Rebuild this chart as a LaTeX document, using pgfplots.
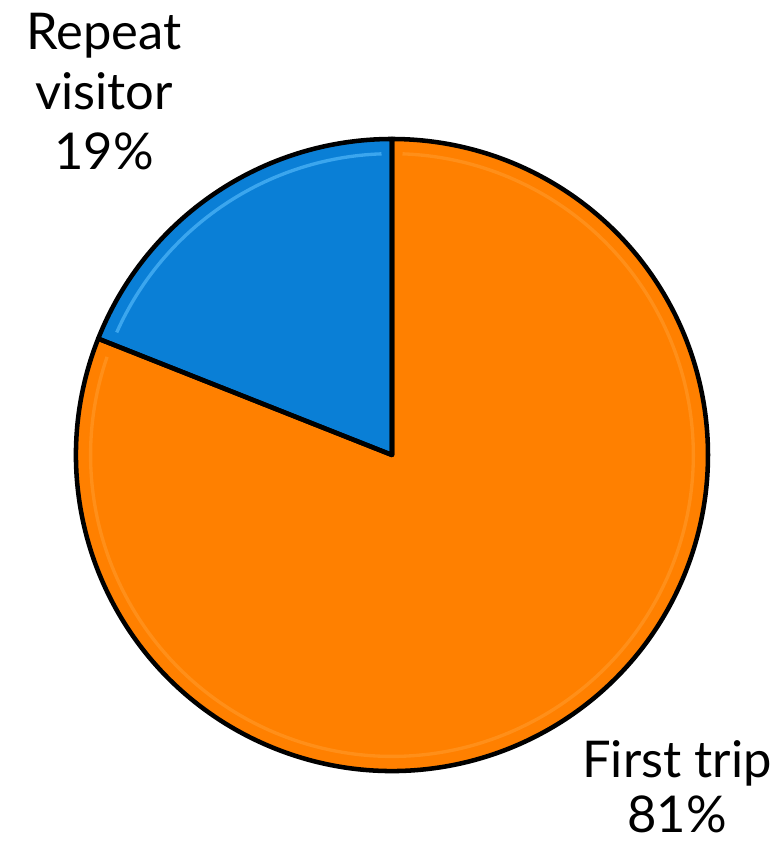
\documentclass[border=0pt]{standalone}
\usepackage{pgfplots}
\usepackage{pgfplotstable}
\pgfplotsset{compat=1.18}
\usepackage{fontspec}
\setmainfont{Lato}
\definecolor{pieblue}{HTML}{0A7FD6}
\definecolor{pieorange}{HTML}{FF8000}
\definecolor{lightblue}{HTML}{5CC0FF}
\definecolor{lightorange}{HTML}{FFA640}

\pgfplotstableread{
label value
Repeat 19
First 81
}\piedata

\begin{document}
\begin{tikzpicture}
\pgfplotstablegetelem{0}{value}\of\piedata \edef\vA{\pgfplotsretval}
\pgfplotstablegetelem{1}{value}\of\piedata \edef\vB{\pgfplotsretval}
\pgfmathsetmacro{\aStart}{90}
\pgfmathsetmacro{\aMid}{90+\vA*3.6}
\pgfmathsetmacro{\aEnd}{\aMid+\vB*3.6}
\begin{axis}[
  width=581.25pt, height=634.5pt, scale only axis,
  at={(0,0)}, anchor=south west,
  xmin=0, xmax=775, ymin=0, ymax=846,
  hide axis, clip=false,
]
% wedges
\fill[pieblue] (axis cs:392,391) -- ++(\aStart:237pt) arc[start angle=\aStart, end angle=\aMid, radius=237pt] -- cycle;
\fill[pieorange] (axis cs:392,391) -- ++(\aMid:237pt) arc[start angle=\aMid, end angle=\aEnd, radius=237pt] -- cycle;
% bevel highlights
\draw[lightblue, line width=2.5pt, opacity=0.6] (axis cs:392,391) ++(92:226pt) arc[start angle=92, end angle=156, radius=226pt];
\draw[lightorange, line width=2.5pt, opacity=0.4] (axis cs:392,391) ++(161:226pt) arc[start angle=161, end angle=448, radius=226pt];
% outlines
\draw[black, line width=3.4pt, line join=round] (axis cs:392,391) -- ++(\aStart:237pt) arc[start angle=\aStart, end angle=\aMid, radius=237pt] -- cycle;
\draw[black, line width=3.4pt, line join=round] (axis cs:392,391) -- ++(\aMid:237pt) arc[start angle=\aMid, end angle=\aEnd, radius=237pt] -- cycle;
% labels
\tikzset{lbl/.style={anchor=base, inner sep=0pt, font=\fontsize{38}{45}\selectfont}}
\node[lbl] at (axis cs:104,796) {Repeat};
\node[lbl] at (axis cs:104,736) {visitor};
\node[lbl] at (axis cs:104,676) {\vA\%};
\node[lbl] at (axis cs:677,68) {First trip};
\node[lbl] at (axis cs:677,13) {\vB\%};
\end{axis}
\pgfresetboundingbox
\useasboundingbox (0,0) rectangle (581.25pt,634.5pt);
\end{tikzpicture}
\end{document}
